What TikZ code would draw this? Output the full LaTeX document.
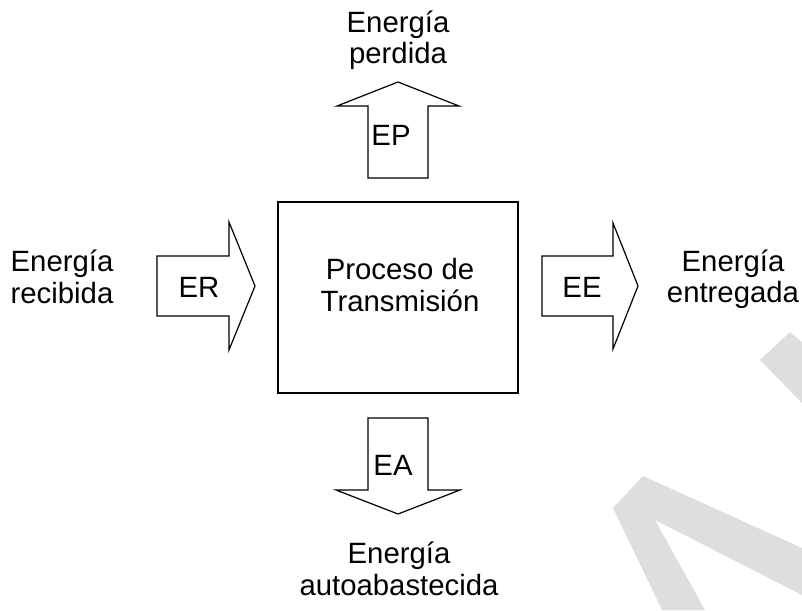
\documentclass[tikz,border=0pt]{standalone}
\usepackage{fontspec}
\setmainfont{Liberation Sans}
\usetikzlibrary{positioning}

\begin{document}
\begin{tikzpicture}[
            x=0.75pt, y=-0.75pt,
            label/.style={align=center, inner sep=0pt, font=\fontsize{22}{23.5}\selectfont},
            flecha/.style={draw=black, line width=0.9pt, line join=miter, fill=white},
            proceso/.style={draw=black, line width=0.9pt, fill=white},
            marca/.style={fill=black!13, draw=none},
        ]
            \useasboundingbox (0,0) rectangle (802,610);

            % Draw the grey mark in the background
            \path[marca] (760,360) -- (790,332) -- (802,342) -- (802,403) -- cycle;
            \path[marca] (613,508) -- (643,476) -- (802,548) -- (802,595)
                -- (655,520) -- (705,610) -- (662,610) -- cycle;

            % Draw the process box
            \draw[proceso] (278,202) rectangle (518,393);
            \node[label] (P) at (400,285) {Proceso de\\Transmisión};

            % Draw the four energy arrows
            \draw[flecha] (157,256) -- (229,256) -- (229,222) -- (255,286)
                -- (229,350) -- (229,316) -- (157,316) -- cycle;
            \draw[flecha] (542,256) -- (613,256) -- (613,223) -- (638,286)
                -- (613,349) -- (613,316) -- (542,316) -- cycle;
            \draw[flecha] (368,178) -- (368,106) -- (337,106) -- (398,82)
                -- (459,106) -- (428,106) -- (428,178) -- cycle;
            \draw[flecha] (368,418) -- (368,490) -- (336,490) -- (398,514)
                -- (460,490) -- (428,490) -- (428,418) -- cycle;

            % Labels inside the arrows
            \node[label] (ER) at (199,287) {ER};
            \node[label] (EE) at (582,287) {EE};
            \node[label] (EP) at (391,135) {EP};
            \node[label] (EA) at (393,465) {EA};

            % Labels outside the arrows
            \node[label] (E-R) at (62,277) {Energía\\recibida};
            \node[label] (E-E) at (733,279) {Energía\\entregada};
            \node[label] (E-P) at (398,40) {Energía\\perdida};
            \node[label] (E-A) at (399,569) {Energía\\autoabastecida};
        \end{tikzpicture}
\end{document}
